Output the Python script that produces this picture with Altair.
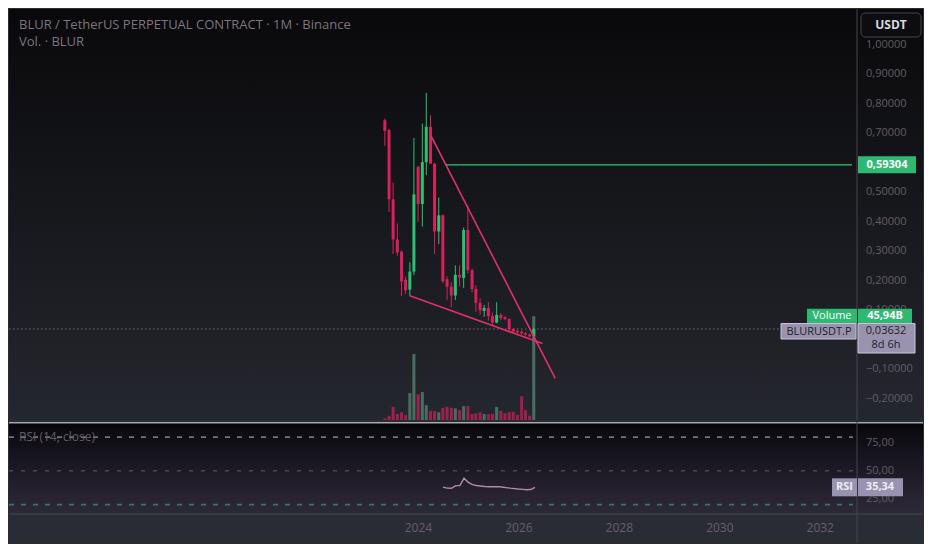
import altair as alt
import pandas as pd
import numpy as np

# ---------------- values ----------------
first_month = "2023-05-01"          # first monthly candle
opens  = [0.744, 0.711, 0.476, 0.340, 0.299, 0.203, 0.170, 0.231, 0.586, 0.460,
          0.602, 0.722, 0.597, 0.367, 0.422, 0.205, 0.180, 0.150, 0.220, 0.209,
          0.372, 0.236, 0.172, 0.125, 0.098, 0.108, 0.080, 0.058, 0.084, 0.076,
          0.070, 0.036, 0.030, 0.027, 0.022, 0.018, 0.012]
highs  = [0.750, 0.715, 0.533, 0.394, 0.302, 0.214, 0.263, 0.684, 0.590, 0.733,
          0.837, 0.761, 0.600, 0.482, 0.425, 0.215, 0.195, 0.252, 0.252, 0.380,
          0.455, 0.240, 0.185, 0.140, 0.118, 0.128, 0.092, 0.127, 0.090, 0.080,
          0.072, 0.040, 0.034, 0.032, 0.026, 0.021, 0.040]
lows   = [0.657, 0.433, 0.291, 0.285, 0.149, 0.155, 0.149, 0.220, 0.400, 0.384,
          0.558, 0.597, 0.291, 0.324, 0.192, 0.135, 0.110, 0.135, 0.181, 0.176,
          0.225, 0.160, 0.095, 0.085, 0.078, 0.065, 0.050, 0.056, 0.066, 0.066,
          0.025, 0.022, 0.020, 0.018, 0.014, 0.008, 0.003]
closes = [0.708, 0.476, 0.340, 0.296, 0.198, 0.168, 0.231, 0.493, 0.460, 0.602,
          0.722, 0.597, 0.367, 0.422, 0.198, 0.180, 0.150, 0.220, 0.211, 0.372,
          0.236, 0.172, 0.125, 0.100, 0.108, 0.080, 0.058, 0.084, 0.074, 0.070,
          0.036, 0.028, 0.025, 0.022, 0.017, 0.012, 0.03632]
volumes_bn = [0.74, 1.88, 5.82, 2.63, 3.37, 2.19, 11.94, 29.18, 11.38, 12.38,
              6.56, 4.07, 3.94, 3.37, 5.38, 5.82, 5.38, 5.12, 4.38, 6.13,
              6.13, 2.63, 2.93, 3.37, 2.63, 2.49, 2.63, 5.82, 4.07, 2.93,
              3.50, 3.63, 2.19, 10.50, 4.38, 1.88, 45.94]
rsi_first_index = 14
rsi_values = [35.5, 34.6, 34.5, 36.9, 36.9, 43.5, 39.8, 37.8, 37.0, 36.5,
              36.1, 35.8, 35.9, 36.0, 35.6, 35.1, 34.6, 34.2, 33.8, 33.5,
              33.2, 33.4, 35.34]

upper_wedge_idx = [11.2, 41.2]          # months after first candle
upper_wedge_price = [0.690, -0.131]
lower_wedge_idx = [6.05, 38.1]
lower_wedge_price = [0.149, -0.013]
resistance_start_idx = 14.8
resistance_price = 0.59304
last_price = 0.03632
last_volume = 45.94
last_rsi = 35.34
countdown = "8d 6h"
symbol = "BLURUSDT.P"
currency = "USDT"
title_line1 = "BLUR / TetherUS PERPETUAL CONTRACT · 1M · Binance"
title_line2 = "Vol. · BLUR"
rsi_title = "RSI (14, close)"
price_ticks = [-0.2, -0.1, 0.1, 0.2, 0.3, 0.4, 0.5, 0.7, 0.8, 0.9, 1.0]
rsi_ticks = [75, 50, 25]
rsi_bands = [80, 50, 20]
year_ticks = [2024, 2026, 2028, 2030, 2032]

# ---------------- layout / style ----------------
W, RIGHT, HM, HR, AX = 848, 66, 411, 92, 29
FONT = "Open Sans"
UP, DOWN = "#29c270", "#d8205c"
VUP, VDOWN = "#4a7868", "#a8224f"
WEDGE = "#e0306a"
GREEN_BOX = "#2eb872"
LAV = "#9a93b0"
AXIS_TXT = "#615c65"
HEAD_TXT = "#7e737e"
DAYS_PER_MONTH = 30.44
LEFT_DAYS, RIGHT_DAYS = -2729, 3438

base = pd.Timestamp(first_month)
fmt = lambda t: t.strftime("%Y-%m-%dT%H:%M:%S")
at_idx = lambda i: base + pd.Timedelta(days=i * DAYS_PER_MONTH)
left_t = base + pd.Timedelta(days=LEFT_DAYS)
right_t = base + pd.Timedelta(days=RIGHT_DAYS)


def dtm(t):
    return alt.DateTime(year=t.year, month=t.month, date=t.day, hours=t.hour, minutes=t.minute)


x_scale = alt.Scale(domain=[dtm(left_t), dtm(right_t)])
price_scale = alt.Scale(domain=[-0.2721, 1.1213], nice=False, zero=False)
vol_scale = alt.Scale(domain=[0, 182], nice=False)
rsi_scale = alt.Scale(domain=[11.6, 93.5], nice=False, zero=False)

month_dates = pd.date_range(base, periods=len(opens), freq="MS")
candles = pd.DataFrame({"t": [fmt(d) for d in month_dates], "o": opens, "h": highs,
                        "l": lows, "c": closes, "v": volumes_bn})
up = np.array(closes) >= np.array(opens)
candles["col"] = np.where(up, UP, DOWN)
candles["vcol"] = np.where(up, VUP, VDOWN)

X = alt.X("t:T", scale=x_scale, axis=None)
one = pd.DataFrame({"k": [0]})


def PY(f):
    return alt.Y(f"{f}:Q", scale=price_scale, axis=None)


def grad(stops):
    return alt.LinearGradient(gradient="linear",
                              stops=[alt.GradientStop(offset=o, color=c) for o, c in stops],
                              x1=0, x2=0, y1=0, y2=1)


def box(value, scale, x1, x2, o1, o2, fill, stroke=None, radius=0):
    props = dict(fill=fill, yOffset=o1, y2Offset=o2, cornerRadius=radius)
    if stroke:
        props.update(stroke=stroke, strokeWidth=1)
    return alt.Chart(pd.DataFrame({"p": [value]})).mark_rect(**props).encode(
        x=alt.value(x1), x2=alt.value(x2),
        y=alt.Y("p:Q", scale=scale, axis=None), y2=alt.Y2("p:Q"))


def label(value, scale, x, text, color, dy=0, bold=True, size=11):
    return alt.Chart(pd.DataFrame({"p": [value]})).mark_text(
        text=text, align="center", baseline="middle", dy=dy, font=FONT,
        fontSize=size, fontWeight="bold" if bold else "normal", color=color).encode(
        x=alt.value(x), y=alt.Y("p:Q", scale=scale, axis=None))


comma = lambda v, d: f"{v:.{d}f}".replace(".", ",")

# ---------------- main pane ----------------
main_bg = alt.Chart(one).mark_rect(
    color=grad([(0, "#09090b"), (1, "#25272e")])).encode(
    x=alt.value(0), x2=alt.value(W + RIGHT), y=alt.value(0), y2=alt.value(HM))

vol_bars = alt.Chart(candles).mark_bar(size=3, opacity=0.9).encode(
    x=X, y=alt.Y("v:Q", scale=vol_scale, axis=None), color=alt.Color("vcol:N", scale=None))

dotted = alt.Chart(pd.DataFrame({"p": [last_price]})).mark_rule(
    strokeDash=[1.5, 2.5], color="#6e6e76", strokeWidth=1).encode(
    y=PY("p"), x=alt.value(0), x2=alt.value(W))

wicks = alt.Chart(candles).mark_rule(strokeWidth=1).encode(
    x=X, y=PY("l"), y2="h:Q", color=alt.Color("col:N", scale=None))
bodies = alt.Chart(candles).mark_bar(size=3).encode(
    x=X, y=PY("o"), y2="c:Q", color=alt.Color("col:N", scale=None))

wedge_df = pd.DataFrame({
    "t": [fmt(at_idx(i)) for i in upper_wedge_idx + lower_wedge_idx],
    "p": upper_wedge_price + lower_wedge_price,
    "g": ["upper", "upper", "lower", "lower"]})
wedges = alt.Chart(wedge_df).mark_line(color=WEDGE, strokeWidth=1.6).encode(
    x=X, y=PY("p"), detail="g:N")

res_df = pd.DataFrame({"t": [fmt(at_idx(resistance_start_idx)), fmt(right_t)],
                       "p": [resistance_price, resistance_price]})
resistance = alt.Chart(res_df).mark_line(color="#2fc27a", strokeWidth=1.3).encode(x=X, y=PY("p"))

price_labels = alt.Chart(pd.DataFrame({"v": price_ticks})).transform_calculate(
    lab="replace(format(datum.v, '.5f'), '.', ',')").mark_text(
    align="left", baseline="middle", font=FONT, fontSize=11, color=AXIS_TXT).encode(
    x=alt.value(W + 9), y=PY("v"), text="lab:N")

head1 = alt.Chart(one).mark_text(text=title_line1, align="left", baseline="middle",
                                 font=FONT, fontSize=13, color=HEAD_TXT).encode(
    x=alt.value(10), y=alt.value(16))
head2 = alt.Chart(one).mark_text(text=title_line2, align="left", baseline="middle",
                                 font=FONT, fontSize=13, color=HEAD_TXT).encode(
    x=alt.value(10), y=alt.value(33))

vline_main = alt.Chart(one).mark_rule(color="#44444c", strokeWidth=1).encode(
    x=alt.value(W), y=alt.value(0), y2=alt.value(HM))

usdt_box = alt.Chart(one).mark_rect(fill="#0d0d10", stroke="#44444b", strokeWidth=1,
                                    cornerRadius=4).encode(
    x=alt.value(W + 4), x2=alt.value(W + 64), y=alt.value(4), y2=alt.value(28))
usdt_txt = alt.Chart(one).mark_text(text=currency, font=FONT, fontSize=12, fontWeight="bold",
                                    color="#d8d8de", align="center", baseline="middle").encode(
    x=alt.value(W + 34), y=alt.value(16))

res_box = box(resistance_price, price_scale, W + 1, W + 59, -8.5, 8.5, GREEN_BOX)
res_txt = label(resistance_price, price_scale, W + 30, comma(resistance_price, 5), "#ffffff")

vol_box1 = box(last_volume, vol_scale, W - 50, W, -7.5, 7.5, GREEN_BOX)
vol_txt1 = label(last_volume, vol_scale, W - 25, "Volume", "#ffffff", bold=False)
vol_box2 = box(last_volume, vol_scale, W + 1, W + 55, -7.5, 7.5, GREEN_BOX)
vol_txt2 = label(last_volume, vol_scale, W + 28, comma(last_volume, 2) + "B", "#ffffff")

sym_box = box(last_price, price_scale, W - 76, W - 1, -5.5, 10, LAV, stroke="#c9c4d8")
sym_txt = label(last_price, price_scale, W - 38, symbol, "#1f1d28", dy=2.5, bold=False)
lp_box = box(last_price, price_scale, W + 1, W + 58, -5.5, 24, LAV, stroke="#c9c4d8")
lp_txt1 = label(last_price, price_scale, W + 29, comma(last_price, 5), "#1f1d28", dy=2, bold=False)
lp_txt2 = label(last_price, price_scale, W + 29, countdown, "#1f1d28", dy=16, bold=False)

main = alt.layer(
    main_bg, vol_bars, dotted, wicks, bodies, wedges, resistance, price_labels,
    head1, head2, vline_main, usdt_box, usdt_txt, res_box, res_txt,
    vol_box1, vol_txt1, vol_box2, vol_txt2, sym_box, sym_txt, lp_box, lp_txt1, lp_txt2
).resolve_scale(y="independent").properties(width=W, height=HM)

# ---------------- RSI pane ----------------
rsi_df = pd.DataFrame({"t": [fmt(d) for d in month_dates[rsi_first_index:]], "r": rsi_values})

rsi_bg = alt.Chart(one).mark_rect(
    color=grad([(0, "#040405"), (0.12, "#0d0c11"), (0.9, "#2b2636"), (1, "#2a2a33")])).encode(
    x=alt.value(0), x2=alt.value(W + RIGHT), y=alt.value(0), y2=alt.value(HR))

sep = alt.Chart(one).mark_rule(color="#a6a6ae", strokeWidth=1.5).encode(
    x=alt.value(0), x2=alt.value(W + RIGHT), y=alt.value(0.75))


def band(v, color, dash, width):
    return alt.Chart(pd.DataFrame({"b": [v]})).mark_rule(
        color=color, strokeDash=dash, strokeWidth=width).encode(
        y=alt.Y("b:Q", scale=rsi_scale, axis=None), x=alt.value(0), x2=alt.value(W - 4))


bands = [band(rsi_bands[0], "#9c9ca4", [5, 7], 1.2),
         band(rsi_bands[1], "#5e5e66", [4, 8], 1),
         band(rsi_bands[2], "#3f7262", [5, 7], 1.8)]

rsi_title_txt = alt.Chart(one).mark_text(text=rsi_title, align="left", baseline="middle",
                                         font=FONT, fontSize=12, color="#625c68").encode(
    x=alt.value(10), y=alt.value(15))

x_axis = alt.Axis(values=[alt.DateTime(year=y, month=1, date=1) for y in year_ticks],
                  format="%Y", labelColor="#685e68", labelFont=FONT, labelFontSize=12,
                  ticks=False, domain=False, grid=False, labelPadding=8, title=None,
                  labelFlush=False)
rsi_line = alt.Chart(rsi_df).mark_line(color="#b48aa6", strokeWidth=1.4).encode(
    x=alt.X("t:T", scale=x_scale, axis=x_axis),
    y=alt.Y("r:Q", scale=rsi_scale, axis=None))

rsi_labels = alt.Chart(pd.DataFrame({"v": rsi_ticks})).transform_calculate(
    lab="replace(format(datum.v, '.2f'), '.', ',')").mark_text(
    align="left", baseline="middle", font=FONT, fontSize=11, color=AXIS_TXT).encode(
    x=alt.value(W + 9), y=alt.Y("v:Q", scale=rsi_scale, axis=None), text="lab:N")

rsi_box1 = box(last_rsi, rsi_scale, W - 25, W, -9, 9, LAV)
rsi_txt1 = label(last_rsi, rsi_scale, W - 12.5, "RSI", "#ececf2")
rsi_box2 = box(last_rsi, rsi_scale, W + 1, W + 46, -9, 9, LAV)
rsi_txt2 = label(last_rsi, rsi_scale, W + 23, comma(last_rsi, 2), "#ececf2")

vline_rsi = alt.Chart(one).mark_rule(color="#44444c", strokeWidth=1).encode(
    x=alt.value(W), y=alt.value(0), y2=alt.value(HR + AX))
hline_axis = alt.Chart(one).mark_rule(color="#46474f", strokeWidth=1).encode(
    x=alt.value(0), x2=alt.value(W + RIGHT), y=alt.value(HR))

rsi = alt.layer(
    rsi_bg, sep, *bands, rsi_title_txt, rsi_line, rsi_labels,
    hline_axis, vline_rsi, rsi_box1, rsi_txt1, rsi_box2, rsi_txt2
).resolve_scale(y="independent").properties(width=W, height=HR)

chart = alt.vconcat(main, rsi, spacing=0).configure(
    background="#2a2c34", padding={"left": 0, "right": 0, "top": 0, "bottom": 0}
).configure_view(stroke=None)

chart.save("out.html", embed_options={"renderer": "svg", "actions": False})
